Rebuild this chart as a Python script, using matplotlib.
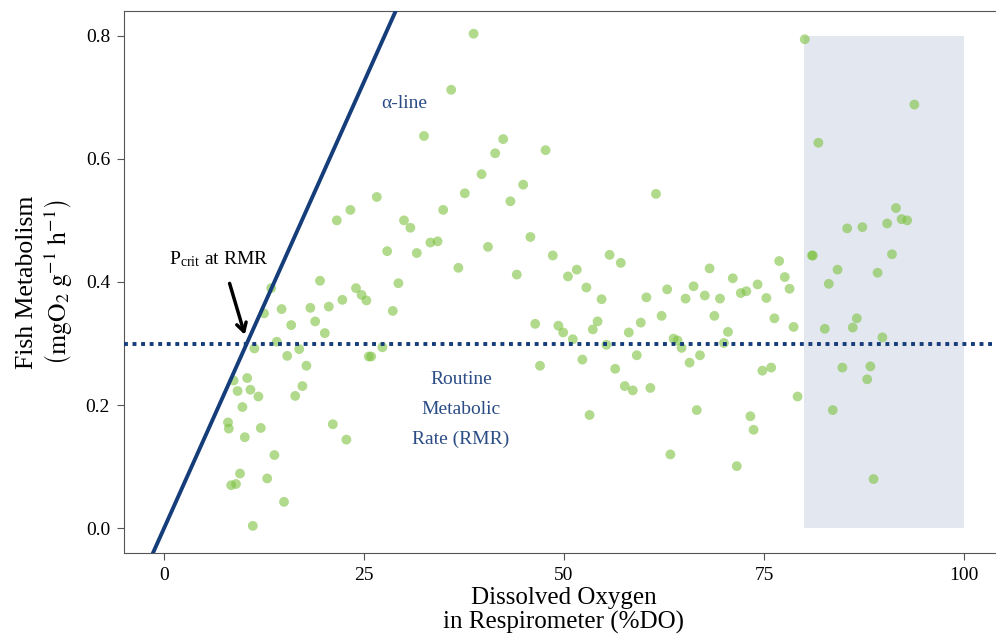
import numpy as np
import matplotlib
matplotlib.use("Agg")
import matplotlib.pyplot as plt
from matplotlib.patches import Rectangle

# Oxygen consumption measurements (x: %DO, y: mgO2 g-1 h-1)
do_pct = [
    19.5, 13.4, 24.0, 24.7, 25.3, 22.3, 18.3, 20.6, 14.7, 12.5,
    18.9, 15.9, 20.1, 14.1, 11.3, 16.9, 15.4, 25.6, 17.8, 10.4,
    8.7, 9.2, 10.8, 11.8, 17.3, 16.4, 9.8, 8.0, 8.1, 12.1,
    10.1, 21.1, 22.8, 13.8, 9.5, 8.4, 9.0, 12.9, 15.0, 11.1,
    21.6, 23.3,
    38.7, 35.9, 32.5, 42.4, 41.4, 47.7, 39.7, 37.6, 44.9, 43.3,
    26.6, 34.9, 30.0, 30.8, 45.8, 33.3, 34.2, 40.5, 27.9, 31.6,
    48.6, 55.7, 36.8, 44.1, 50.5, 51.6,
    29.3, 28.6, 52.8, 54.7, 46.4, 49.3, 49.9, 54.2, 53.6, 51.1,
    55.3, 27.3, 25.9, 52.3, 47.0, 53.2,
    61.5, 57.1, 68.2, 76.9, 81.1, 71.1, 77.6,
    78.2, 74.2, 75.3, 72.1, 72.8, 69.5, 67.6, 66.2, 65.2, 62.9,
    60.3, 68.8, 62.2, 59.6, 58.1, 70.5, 76.3, 78.7, 63.7, 64.2,
    64.7, 70.0, 59.1, 67.0, 65.7, 56.4, 57.6, 58.6, 60.8, 74.8,
    75.9, 79.2, 66.6, 73.3, 73.7, 63.3, 71.6,
    80.1, 81.8, 93.8, 91.5, 92.2, 92.9, 90.4, 85.4, 87.3, 81.0,
    91.0, 84.2, 89.2, 83.1, 86.6, 86.1, 82.6, 89.8, 84.8, 88.3,
    87.9, 83.6, 88.7,
]
metab = [
    0.402, 0.390, 0.390, 0.379, 0.370, 0.371, 0.358, 0.360, 0.356, 0.349,
    0.336, 0.330, 0.317, 0.303, 0.292, 0.291, 0.280, 0.279, 0.264, 0.244,
    0.240, 0.223, 0.225, 0.214, 0.231, 0.215, 0.197, 0.172, 0.162, 0.163,
    0.148, 0.169, 0.144, 0.119, 0.089, 0.070, 0.072, 0.081, 0.043, 0.004,
    0.500, 0.517,
    0.803, 0.712, 0.637, 0.632, 0.609, 0.614, 0.575, 0.544, 0.558, 0.531,
    0.538, 0.517, 0.500, 0.488, 0.473, 0.464, 0.466, 0.457, 0.450, 0.447,
    0.443, 0.444, 0.423, 0.412, 0.409, 0.420,
    0.398, 0.353, 0.391, 0.372, 0.332, 0.329, 0.318, 0.336, 0.323, 0.307,
    0.298, 0.294, 0.279, 0.274, 0.264, 0.184,
    0.543, 0.431, 0.422, 0.434, 0.443, 0.406, 0.408,
    0.389, 0.396, 0.374, 0.382, 0.385, 0.373, 0.378, 0.393, 0.373, 0.388,
    0.375, 0.345, 0.345, 0.334, 0.318, 0.319, 0.341, 0.327, 0.308, 0.305,
    0.293, 0.301, 0.281, 0.281, 0.269, 0.259, 0.231, 0.224, 0.228, 0.256,
    0.261, 0.214, 0.192, 0.182, 0.160, 0.120, 0.101,
    0.794, 0.626, 0.688, 0.520, 0.502, 0.500, 0.495, 0.487, 0.489, 0.443,
    0.445, 0.420, 0.415, 0.397, 0.341, 0.326, 0.324, 0.310, 0.261, 0.263,
    0.242, 0.192, 0.080,
]

rmr = 0.30          # routine metabolic rate
alpha_slope = 0.029  # alpha-line: metabolism = slope * DO
shade_x = (80, 100)
shade_y = (0.0, 0.8)

navy = "#143d7a"
text_blue = "#2b4c85"

plt.rcParams["font.family"] = ["Liberation Serif", "DejaVu Serif"]
plt.rcParams["mathtext.fontset"] = "stix"

fig = plt.figure(figsize=(9.96, 6.37), dpi=100)
ax = fig.add_axes([0.1245, 0.1319, 0.8835, 0.8509])

ax.add_patch(Rectangle((shade_x[0], shade_y[0]), shade_x[1] - shade_x[0],
                       shade_y[1] - shade_y[0], color="#e3e8f0", lw=0, zorder=0))

ax.scatter(do_pct, metab, s=50, color="#7dc242", alpha=0.6, edgecolors="none", zorder=2)

xs = np.array([-5, 105])
ax.plot(xs, alpha_slope * xs, color=navy, lw=2.8, zorder=3)
ax.axhline(rmr, color=navy, lw=2.8, ls=(0, (1, 1.2)), zorder=3)

ax.text(30, 0.69, "α-line", color=text_blue, fontsize=14, ha="center", va="center")
ax.text(37.1, 0.193, "Routine\nMetabolic\nRate (RMR)", color=text_blue, fontsize=14,
        ha="center", va="center", linespacing=2.0)
ax.text(0.6, 0.437, r"P$_{\mathregular{crit}}$ at RMR", fontsize=14, ha="left", va="center")
ax.annotate("", xy=(10.2, 0.31), xytext=(8.1, 0.402),
            arrowprops=dict(arrowstyle="->,head_width=0.35,head_length=0.6",
                            lw=2.5, color="black"))

ax.set_xlim(-5, 105)
ax.set_ylim(-0.04, 0.84)
ax.set_xticks([0, 25, 50, 75, 100])
ax.set_yticks([0.0, 0.2, 0.4, 0.6, 0.8])
ax.tick_params(labelsize=14, length=5, pad=5, color="#555555")
for sp in ax.spines.values():
    sp.set_color("#555555")

ax.set_xlabel("Dissolved Oxygen\nin Respirometer (%DO)", fontsize=18, labelpad=2,
              linespacing=1.1)
ax.set_ylabel("Fish Metabolism\n" + r"$\left(\mathrm{mgO_2\ g^{-1}\ h^{-1}}\right)$",
              fontsize=18.5, labelpad=8)

fig.savefig("out.png", dpi=100)
